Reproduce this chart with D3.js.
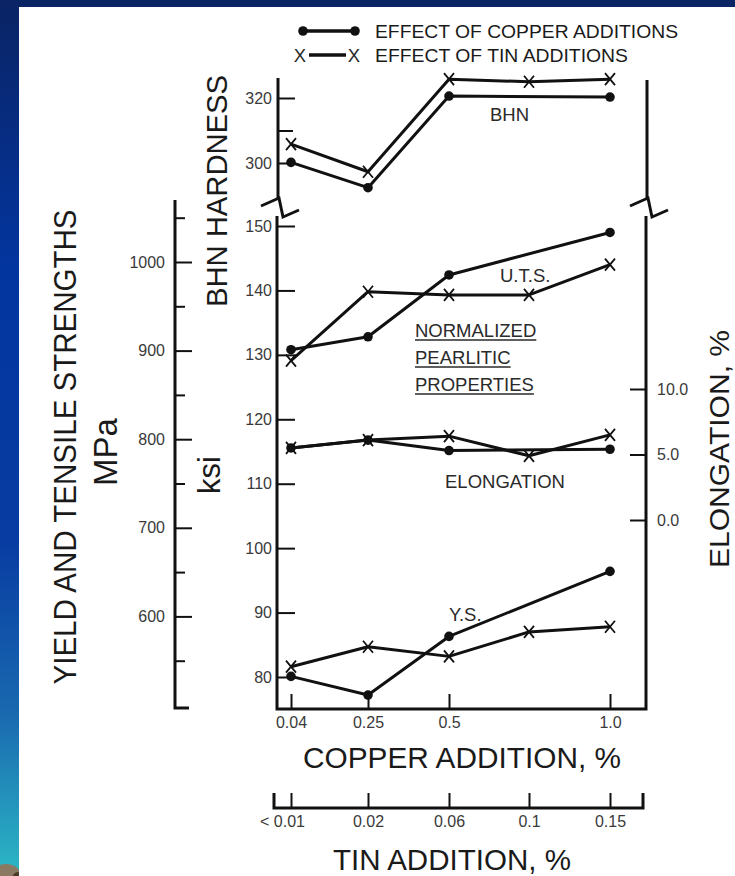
<!DOCTYPE html>
<html>
<head>
<meta charset="utf-8">
<title>Effect of copper and tin additions</title>
<script src="https://cdn.jsdelivr.net/npm/d3@7"></script>
<style>
body { margin: 0; background: #fff; }
svg text { font-family: "Liberation Sans", Arial, Helvetica, sans-serif; }
.tick text { fill: #3a3a3a; font-size: 16px; }
.tick line { stroke: #111; stroke-width: 2; }
.frame { stroke: #111; stroke-width: 3; fill: none; }
.series { fill: none; stroke: #111; stroke-width: 3; stroke-linejoin: round; }
.title { fill: #1a1a1a; }
.note { fill: #2a2a2a; font-size: 18.5px; }
</style>
</head>
<body>
<svg id="chart" width="735" height="876"></svg>
<script>

// additions on the two x axes
var copperAdd = [0.04, 0.25, 0.5, 1.0];
var copperLabels = ["0.04", "0.25", "0.5", "1.0"];
var tinAdd = [0.01, 0.02, 0.06, 0.1, 0.15];
var tinLabels = ["< 0.01", "0.02", "0.06", "0.1", "0.15"];

// BHN hardness
var bhnCopper = [300.2, 292.4, 320.6, 320.3];
var bhnTin = [305.8, 297.3, 325.8, 325.0, 325.8];

// ultimate tensile strength, ksi
var utsCopper = [130.8, 132.8, 142.4, 149.0];
var utsTin = [129.1, 139.8, 139.3, 139.3, 144.0];

// elongation, %
var elongCopper = [5.5, 6.1, 5.3, 5.4];
var elongTin = [5.5, 6.1, 6.4, 4.9, 6.5];

// yield strength, ksi
var ysCopper = [80.1, 77.2, 86.3, 96.4];
var ysTin = [81.6, 84.7, 83.2, 87.0, 87.8];

// axis ticks
var bhnTicks = [300, 320];
var bhnMinor = [310];
var ksiTicks = [80, 90, 100, 110, 120, 130, 140, 150];
var mpaTicks = [600, 700, 800, 900, 1000];
var mpaMinor = [550, 650, 750, 850, 950, 1050];
var elongTicks = [0, 5, 10];

var svg = d3.select("#chart");

// slide background + white panel
var defs = svg.append("defs");
var grad = defs.append("linearGradient").attr("id", "bg").attr("x1", 0).attr("y1", 0).attr("x2", 0).attr("y2", 1);
[["0%", "#0a2464"], ["30%", "#03359e"], ["62%", "#083ca2"], ["82%", "#1a6bb0"], ["100%", "#2cb8c6"]].forEach(function(s){
	grad.append("stop").attr("offset", s[0]).attr("stop-color", s[1]);
});
svg.append("rect").attr("width", 735).attr("height", 876).attr("fill", "url(#bg)");
svg.append("ellipse").attr("cx", 6).attr("cy", 878).attr("rx", 16).attr("ry", 14).attr("fill", "#8a7a64");
svg.append("ellipse").attr("cx", 18).attr("cy", 880).attr("rx", 6).attr("ry", 8).attr("fill", "#4a3a2a");
svg.append("rect").attr("x", 19).attr("y", 7).attr("width", 716).attr("height", 869).attr("fill", "#fff");

// scales
var yBhn = d3.scaleLinear().domain([300, 320]).range([163, 98]);
var yKsi = d3.scaleLinear().domain([80, 150]).range([677, 226]);
var yMpa = d3.scaleLinear().domain([500, 1000]).range([705, 262]);
var yEl = d3.scaleLinear().domain([0, 10]).range([520, 389]);
var xCu = d3.scaleLinear().domain(copperAdd).range([291, 368, 449, 610]);
var xSn = d3.scaleLinear().domain(tinAdd).range([291, 368, 449, 529, 610]);

function frameLine(pts){
	svg.append("path").attr("class", "frame").attr("d", d3.line()(pts));
}

// axis break marks
function drawBreak(x){
	svg.append("path").attr("class", "frame").attr("stroke-width", 3)
		.attr("d", d3.line()([[x - 17, 206], [x + 1, 198], [x + 5, 217], [x + 21, 210]]));
}

// frame lines
frameLine([[278, 78], [278, 199]]);
frameLine([[647, 80], [647, 199]]);
drawBreak(278);
drawBreak(647);
frameLine([[277, 216], [277, 709], [646, 709], [646, 216]]);
frameLine([[175, 200], [175, 708], [189, 708]]);
frameLine([[274, 793], [274, 808], [643, 808], [643, 793]]);

function tidy(g){
	g.select(".domain").remove();
}

// upper BHN axis
svg.append("g").attr("transform", "translate(278,0)")
	.call(d3.axisLeft(yBhn).tickValues(bhnTicks).tickSize(-17).tickPadding(6)).call(tidy);
svg.append("g").attr("transform", "translate(278,0)")
	.call(d3.axisLeft(yBhn).tickValues(bhnMinor).tickSize(-15).tickFormat("")).call(tidy);

// ksi axis
svg.append("g").attr("transform", "translate(277,0)")
	.call(d3.axisLeft(yKsi).tickValues(ksiTicks).tickSize(-18).tickPadding(5)).call(tidy);

// MPa axis
svg.append("g").attr("transform", "translate(175,0)")
	.call(d3.axisLeft(yMpa).tickValues(mpaTicks).tickSize(-17).tickPadding(10).tickFormat(d3.format("d"))).call(tidy);
svg.append("g").attr("transform", "translate(175,0)")
	.call(d3.axisLeft(yMpa).tickValues(mpaMinor).tickSize(-10).tickFormat("")).call(tidy);

// elongation axis
svg.append("g").attr("transform", "translate(646,0)")
	.call(d3.axisRight(yEl).tickValues(elongTicks).tickSize(-16).tickPadding(11).tickFormat(d3.format(".1f"))).call(tidy);

// copper axis
svg.append("g").attr("transform", "translate(0,709)")
	.call(d3.axisBottom(xCu).tickValues(copperAdd).tickSize(-15).tickPadding(8)
		.tickFormat(function(d, i){ return copperLabels[i]; })).call(tidy);

// tin axis
var tinAxis = svg.append("g").attr("transform", "translate(0,808)")
	.call(d3.axisBottom(xSn).tickValues(tinAdd).tickSize(-15).tickPadding(8)
		.tickFormat(function(d, i){ return tinLabels[i]; })).call(tidy);
tinAxis.selectAll(".tick text").attr("dx", function(d, i){ return i == 0 ? -9 : 0; });

// series
function drawSeries(xs, ys, xScale, yScale, kind){
	var pts = xs.map(function(x, i){ return {x: x, y: ys[i]}; });
	var line = d3.line().x(function(d){ return xScale(d.x); }).y(function(d){ return yScale(d.y); });
	svg.append("path").datum(pts).attr("class", "series").attr("d", line);

	if(kind == "dot"){
		svg.selectAll(null).data(pts).enter().append("circle")
			.attr("cx", function(d){ return xScale(d.x); })
			.attr("cy", function(d){ return yScale(d.y); })
			.attr("r", 4.8).attr("fill", "#111");
	}
	else{
		svg.selectAll(null).data(pts).enter().append("path")
			.attr("transform", function(d){ return "translate(" + xScale(d.x) + "," + yScale(d.y) + ")"; })
			.attr("d", "M-5,-6L5,6M-5,6L5,-6")
			.attr("stroke", "#111").attr("stroke-width", 1.8).attr("fill", "none");
	}
}

drawSeries(copperAdd, bhnCopper, xCu, yBhn, "dot");
drawSeries(tinAdd, bhnTin, xSn, yBhn, "x");
drawSeries(copperAdd, utsCopper, xCu, yKsi, "dot");
drawSeries(tinAdd, utsTin, xSn, yKsi, "x");
drawSeries(copperAdd, elongCopper, xCu, yEl, "dot");
drawSeries(tinAdd, elongTin, xSn, yEl, "x");
drawSeries(copperAdd, ysCopper, xCu, yKsi, "dot");
drawSeries(tinAdd, ysTin, xSn, yKsi, "x");

// legend
svg.append("line").attr("x1", 303).attr("x2", 355).attr("y1", 31).attr("y2", 31).attr("stroke", "#111").attr("stroke-width", 3.5);
svg.append("circle").attr("cx", 303).attr("cy", 31).attr("r", 4.8).attr("fill", "#111");
svg.append("circle").attr("cx", 355).attr("cy", 31).attr("r", 4.8).attr("fill", "#111");
svg.append("line").attr("x1", 309).attr("x2", 346).attr("y1", 55).attr("y2", 55).attr("stroke", "#111").attr("stroke-width", 3.5);
svg.append("text").attr("x", 300).attr("y", 62).attr("text-anchor", "middle").attr("class", "note").text("X");
svg.append("text").attr("x", 354).attr("y", 62).attr("text-anchor", "middle").attr("class", "note").text("X");

function label(x, y, txt, size, len){
	var t = svg.append("text").attr("x", x).attr("y", y).attr("class", "title")
		.style("font-size", size + "px").text(txt);
	if(len) t.attr("textLength", len).attr("lengthAdjust", "spacingAndGlyphs");
	return t;
}
label(375, 38, "EFFECT OF COPPER ADDITIONS", 19, 303);
label(375, 62, "EFFECT OF TIN ADDITIONS", 19, 253);

// vertical titles
function vlabel(x, y, txt, size, len){
	var t = svg.append("text").attr("class", "title")
		.attr("transform", "translate(" + x + "," + y + ") rotate(-90)")
		.attr("text-anchor", "middle").style("font-size", size + "px").text(txt);
	if(len) t.attr("textLength", len).attr("lengthAdjust", "spacingAndGlyphs");
}
vlabel(76, 447, "YIELD AND TENSILE STRENGTHS", 31, 475);
vlabel(117, 452, "MPa", 33);
vlabel(220, 475, "ksi", 31);
vlabel(227, 191, "BHN HARDNESS", 30, 232);
vlabel(729, 449, "ELONGATION, %", 28, 238);

// x titles
label(303, 768, "COPPER ADDITION, %", 29, 318);
label(333, 870, "TIN ADDITION, %", 29, 238);

// notes inside the plot
function note(x, y, txt, underline){
	var t = svg.append("text").attr("x", x).attr("y", y).attr("class", "note").text(txt);
	if(underline){
		var w = t.node().getComputedTextLength();
		svg.append("line").attr("x1", x).attr("x2", x + w).attr("y1", y + 3).attr("y2", y + 3)
			.attr("stroke", "#2a2a2a").attr("stroke-width", 1.5);
	}
}
note(490, 121, "BHN");
note(500, 282, "U.T.S.");
note(415, 337, "NORMALIZED", true);
note(415, 364, "PEARLITIC", true);
note(415, 391, "PROPERTIES", true);
note(445, 488, "ELONGATION");
note(449, 621, "Y.S.");

</script>
</body>
</html>
